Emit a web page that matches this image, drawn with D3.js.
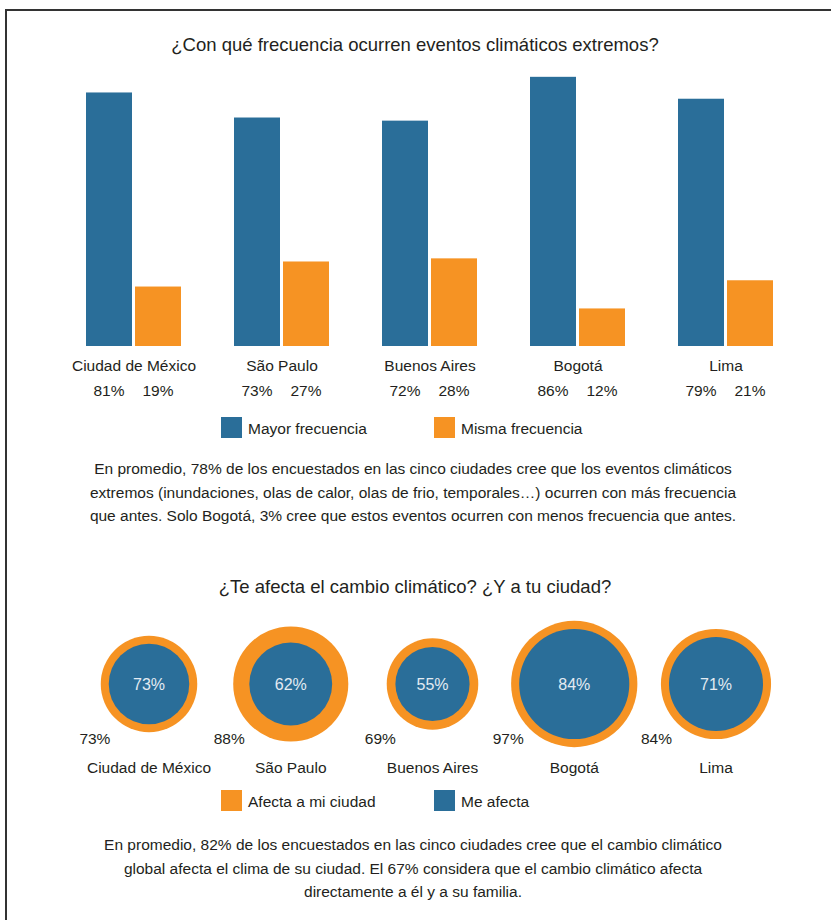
<!DOCTYPE html>
<html>
<head>
<meta charset="utf-8">
<script src="https://cdn.jsdelivr.net/npm/d3@7"></script>
<style>
	body { margin: 0; background: #fff; }
	svg text { font-family: "Liberation Sans", Arial, sans-serif; fill: #231f20; }
</style>
</head>
<body>
<svg></svg>
<script>

// DATA

var cities = ["Ciudad de México", "São Paulo", "Buenos Aires", "Bogotá", "Lima"]

// ¿Con qué frecuencia ocurren eventos climáticos extremos?
var mayor = [81, 73, 72, 86, 79]
var misma = [19, 27, 28, 12, 21]
var series1 = ["Mayor frecuencia", "Misma frecuencia"]

// ¿Te afecta el cambio climático? ¿Y a tu ciudad?
var afectaCiudad = [73, 88, 69, 97, 84]
var meAfecta = [73, 62, 55, 84, 71]
var series2 = ["Afecta a mi ciudad", "Me afecta"]

var text1 = [
	"En promedio, 78% de los encuestados en las cinco ciudades cree que los eventos climáticos",
	"extremos (inundaciones, olas de calor, olas de frio, temporales…) ocurren con más frecuencia",
	"que antes. Solo Bogotá, 3% cree que estos eventos ocurren con menos frecuencia que antes."
]
var text2 = [
	"En promedio, 82% de los encuestados en las cinco ciudades cree que el cambio climático",
	"global afecta el clima de su ciudad. El 67% considera que el cambio climático afecta",
	"directamente a él y a su familia."
]

// VIS

var width = 831
var height = 920

var blue = "#2a6e99"
var orange = "#f69323"
var fs = "15.5px"

var svg = d3.select("svg")
	.attr("width", width)
	.attr("height", height)

// frame (cut on right / bottom)
svg.append("rect")
	.attr("x", 6)
	.attr("y", 10)
	.attr("width", 900)
	.attr("height", 1000)
	.attr("fill", "none")
	.attr("stroke", "#333")
	.attr("stroke-width", 2)

function title(txt, y){
	svg.append("text")
		.attr("x", 415)
		.attr("y", y)
		.attr("text-anchor", "middle")
		.style("font-size", "18.5px")
		.text(txt)
}

function paragraph(lines, y){
	svg.append("g").selectAll("text")
		.data(lines)
		.enter().append("text")
		.attr("x", 413)
		.attr("y", function(d, i){ return y + i * 23.5 })
		.attr("text-anchor", "middle")
		.style("font-size", fs)
		.text(function(d){ return d })
}

function legend(items, colors, y){
	var g = svg.append("g")
	var lx = d3.scaleOrdinal().domain(items).range([221, 434])
	items.forEach(function(d, i){
		g.append("rect")
			.attr("x", lx(d))
			.attr("y", y - 11)
			.attr("width", 21)
			.attr("height", 21)
			.attr("fill", colors[i])
		g.append("text")
			.attr("x", lx(d) + 27)
			.attr("y", y + 6)
			.style("font-size", fs)
			.text(d)
	})
}

// BARS

title("¿Con qué frecuencia ocurren eventos climáticos extremos?", 51)

var x0 = d3.scaleBand()
	.domain(cities)
	.range([59.5, 799.5])

var x1 = d3.scaleBand()
	.domain(series1)
	.range([26.5, 121.5])
	.paddingInner(0.0612)

var y = d3.scaleLinear()
	.domain([0, 100])
	.range([346, 33])

var barData = cities.map(function(c, i){
	return { city: c, values: [
		{ key: series1[0], v: mayor[i], color: blue },
		{ key: series1[1], v: misma[i], color: orange }
	]}
})

var groups = svg.append("g").selectAll(".group")
	.data(barData)
	.enter().append("g")
	.attr("class", "group")
	.attr("transform", function(d){ return "translate(" + x0(d.city) + ",0)" })

groups.selectAll("rect")
	.data(function(d){ return d.values })
	.enter().append("rect")
	.attr("x", function(d){ return x1(d.key) })
	.attr("y", function(d){ return y(d.v) })
	.attr("width", x1.bandwidth())
	.attr("height", function(d){ return y(0) - y(d.v) })
	.attr("fill", function(d){ return d.color })

groups.append("text")
	.attr("x", x0.bandwidth() / 2 + 0.5)
	.attr("y", 371)
	.attr("text-anchor", "middle")
	.style("font-size", fs)
	.text(function(d){ return d.city })

groups.selectAll(".pct")
	.data(function(d){ return d.values })
	.enter().append("text")
	.attr("class", "pct")
	.attr("x", function(d){ return x1(d.key) + x1.bandwidth() / 2 })
	.attr("y", 396)
	.attr("text-anchor", "middle")
	.style("font-size", fs)
	.text(function(d){ return d.v + "%" })

legend(series1, [blue, orange], 428)

paragraph(text1, 474)

// CIRCLES

title("¿Te afecta el cambio climático? ¿Y a tu ciudad?", 593)

var cx = d3.scalePoint()
	.domain(cities)
	.range([149, 716])

var r = d3.scaleLinear()
	.domain([0, 100])
	.range([3, 65])

var cy = 684

var circData = cities.map(function(c, i){
	return { city: c, outer: afectaCiudad[i], inner: meAfecta[i] }
})

var cg = svg.append("g").selectAll(".circ")
	.data(circData)
	.enter().append("g")
	.attr("class", "circ")
	.attr("transform", function(d){ return "translate(" + cx(d.city) + "," + cy + ")" })

cg.append("circle")
	.attr("r", function(d){ return r(d.outer) })
	.attr("fill", orange)

// keep a visible ring when both values are equal
cg.append("circle")
	.attr("r", function(d){ return Math.min(r(d.inner), r(d.outer) - 8) })
	.attr("fill", blue)

cg.append("text")
	.attr("y", 6)
	.attr("text-anchor", "middle")
	.style("font-size", "16px")
	.style("fill", "#e3ebf2")
	.text(function(d){ return d.inner + "%" })

cg.append("text")
	.attr("x", function(d){ return -r(d.outer) * 0.8 })
	.attr("y", 60)
	.attr("text-anchor", "end")
	.style("font-size", fs)
	.text(function(d){ return d.outer + "%" })

cg.append("text")
	.attr("y", 89)
	.attr("text-anchor", "middle")
	.style("font-size", fs)
	.text(function(d){ return d.city })

legend(series2, [orange, blue], 801)

paragraph(text2, 850)

</script>
</body>
</html>
